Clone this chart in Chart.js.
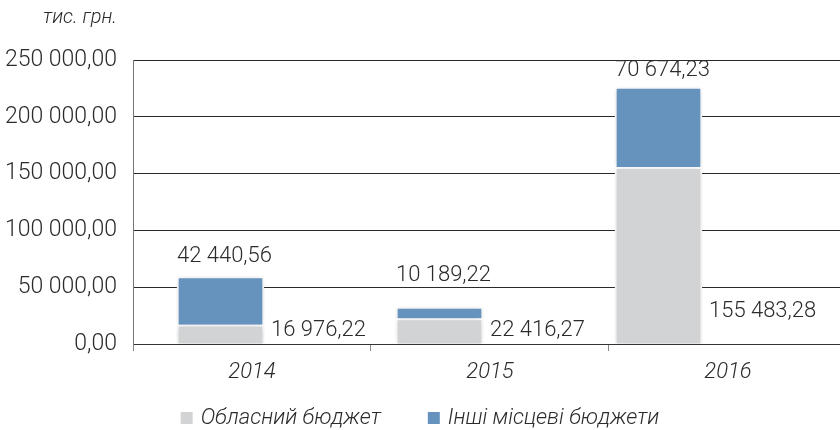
<!DOCTYPE html>
<html>
<head>
<meta charset="utf-8">
<script src="https://cdn.jsdelivr.net/npm/chart.js@4.4.1/dist/chart.umd.min.js"></script>
<style>
  html, body { margin: 0; padding: 0; background: #fff; }
  .chart-wrap { width: 840px; height: 430px; position: relative; }
</style>
</head>
<body>
<div class="chart-wrap"><canvas id="budgetChart"></canvas></div>
<script>
// data
const years = ['2014', '2015', '2016'];
const regionalBudget = [16976.22, 22416.27, 155483.28];
const otherLocalBudgets = [42440.56, 10189.22, 70674.23];
const seriesNames = ['Обласний бюджет', 'Інші місцеві бюджети'];
const seriesColors = ['#d2d3d5', '#6593bd'];
const unitLabel = 'тис. грн.';
const yTicks = [0, 50000, 100000, 150000, 200000, 250000];

const FONT = 'Roboto, "Noto Sans", sans-serif';
const TEXT = '#2b2b2b';
const yearNums = years.map(Number);

function fmt(v, d) {
    const parts = v.toFixed(d).split('.');
    const whole = parts[0].replace(/\B(?=(\d{3})+(?!\d))/g, ' ');
    return d ? whole + ',' + parts[1] : whole;
}

// shadow under the bars, value labels, unit caption and legend
const barExtras = {
    id: 'barExtras',
    beforeDatasetsDraw(chart) {
        const ctx = chart.ctx;
        ctx.save();
        ctx.shadowColor = 'rgba(0,0,0,0.18)';
        ctx.shadowBlur = 7;
        ctx.shadowOffsetY = 1;
    },
    afterDatasetsDraw(chart) {
        const ctx = chart.ctx;
        ctx.restore();
        ctx.save();
        ctx.font = '300 22px ' + FONT;
        ctx.fillStyle = TEXT;
        ctx.textBaseline = 'middle';
        ctx.textAlign = 'left';
        const top = chart.chartArea.top;
        chart.getDatasetMeta(0).data.forEach((bar, i) => {
            const h = bar.base - bar.y;
            const y = bar.base - 13 - Math.max(0, h - 30) * 0.13;
            ctx.fillText(fmt(regionalBudget[i], 2), bar.x + bar.width / 2 + 7, y);
        });
        chart.getDatasetMeta(1).data.forEach((bar, i) => {
            const h = bar.base - bar.y;
            const y = Math.max(top + 10, bar.y - 20 - Math.max(0, 30 - h) * 0.6);
            ctx.fillText(fmt(otherLocalBudgets[i], 2), bar.x - bar.width / 2, y);
        });

        // unit caption
        ctx.font = 'italic 300 20px ' + FONT;
        ctx.textAlign = 'right';
        ctx.fillText(unitLabel, 117, 18);

        // legend
        ctx.font = 'italic 300 22px ' + FONT;
        ctx.textAlign = 'left';
        const box = 12, gapText = 8, gapItem = 47, ly = 418;
        const widths = seriesNames.map(s => ctx.measureText(s).width);
        const total = widths.reduce((a, w) => a + box + gapText + w, 0) + gapItem;
        let x = (chart.width - total) / 2;
        seriesNames.forEach((name, i) => {
            ctx.fillStyle = seriesColors[i];
            ctx.fillRect(x, ly - box / 2, box, box);
            ctx.fillStyle = TEXT;
            ctx.fillText(name, x + box + gapText, ly);
            x += box + gapText + widths[i] + gapItem;
        });
        ctx.restore();
    }
};

const ctx = document.getElementById('budgetChart').getContext('2d');
const budgetChart = new Chart(ctx, {
    type: 'bar',
    data: {
        labels: years,
        datasets: [
            { label: seriesNames[0], data: regionalBudget, backgroundColor: seriesColors[0], borderColor: '#ffffff', borderWidth: 2, xAxisID: 'xb' },
            { label: seriesNames[1], data: otherLocalBudgets, backgroundColor: seriesColors[1], borderColor: '#ffffff', borderWidth: 2, xAxisID: 'xb' }
        ]
    },
    options: {
        responsive: true,
        maintainAspectRatio: false,
        animation: false,
        barThickness: 87,
        layout: { padding: { top: 60, right: 0, bottom: 42, left: 0 } },
        plugins: {
            tooltip: { enabled: false },
            legend: { display: false }
        },
        scales: {
            // year labels with tick marks between the years
            x: {
                type: 'linear',
                position: 'bottom',
                offset: false,
                bounds: 'data',
                min: 2013.5,
                max: 2016.4706,
                afterFit(scale) { scale.height = 44; },
                afterBuildTicks(scale) {
                    const t = [];
                    yearNums.forEach(y => { t.push({ value: y - 0.5 }, { value: y }); });
                    scale.ticks = t;
                },
                grid: {
                    offset: false,
                    drawOnChartArea: false,
                    drawTicks: true,
                    tickLength: 7,
                    color: c => (c.tick && Number.isInteger(c.tick.value)) ? 'rgba(0,0,0,0)' : '#888'
                },
                border: { display: true, color: '#333' },
                ticks: {
                    color: TEXT,
                    padding: 8,
                    maxRotation: 0,
                    autoSkip: false,
                    font: { family: FONT, size: 22, style: 'italic', weight: 300 },
                    callback: v => yearNums.includes(v) ? years[yearNums.indexOf(v)] : ''
                }
            },
            // bars sit on their own hidden year scale, spaced a bit tighter than the labels
            xb: {
                type: 'linear',
                display: false,
                offset: false,
                bounds: 'data',
                stacked: true,
                min: 2013.6005,
                max: 2016.8288
            },
            y: {
                stacked: true,
                min: 0,
                max: 250000,
                afterFit(scale) { scale.width = 133; },
                afterBuildTicks(scale) { scale.ticks = yTicks.map(v => ({ value: v })); },
                grid: { color: '#2a2a2a', drawTicks: false },
                border: { display: true, color: '#777' },
                ticks: {
                    color: TEXT,
                    padding: 16,
                    font: { family: FONT, size: 23, weight: 300 },
                    callback: v => fmt(v, 2)
                }
            }
        }
    },
    plugins: [barExtras]
});
</script>
</body>
</html>
